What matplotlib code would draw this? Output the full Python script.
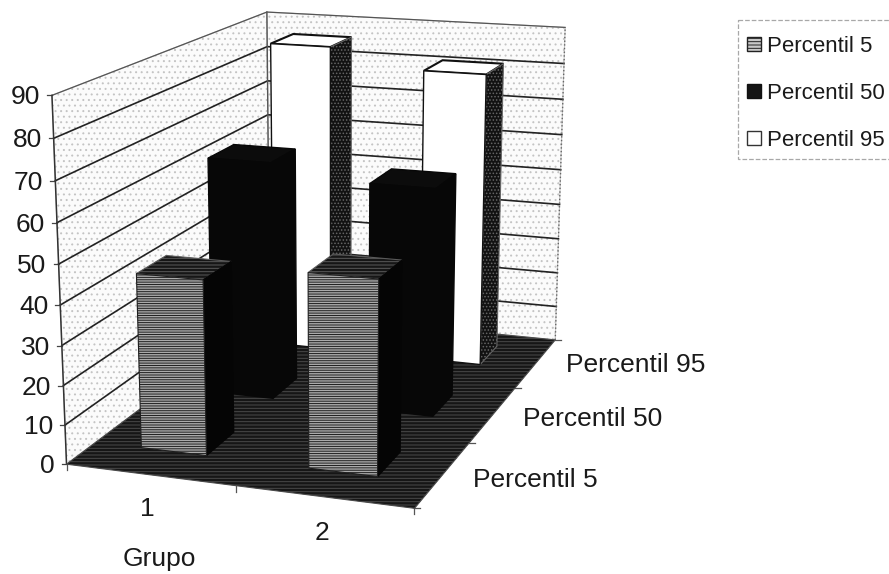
import numpy as np
import matplotlib
matplotlib.use('Agg')
import matplotlib.pyplot as plt
from matplotlib.patches import Polygon, Patch, Rectangle

plt.rcParams['font.family'] = ['Liberation Sans', 'DejaVu Sans']
plt.rcParams['hatch.linewidth'] = 0.7

grupos = ['1', '2']
percentis = ['Percentil 5', 'Percentil 50', 'Percentil 95']
percentil_5 = [44.5, 48.7]
percentil_50 = [63.4, 60]
percentil_95 = [86, 81]
valores = [percentil_5, percentil_50, percentil_95]
ticks_y = [0, 10, 20, 30, 40, 50, 60, 70, 80, 90]

# cantos da caixa 3D: (grupo, profundidade, valor) -> pixel na figura
CANTOS = [
    ((0, 0, 0), (66, 462)), ((2, 0, 0), (415, 510)),
    ((2, 3, 0), (555, 338)), ((0, 3, 0), (270, 314)),
    ((0, 0, 90), (52, 96)), ((0, 3, 90), (267, 11)),
    ((2, 3, 90), (565, 28)),
]


def ajustar_camera(cantos):
    # matriz de projecao 3x4 por minimos quadrados
    A, b = [], []
    for (u, v, w), (px, py) in cantos:
        A.append([u, v, w, 1, 0, 0, 0, 0, -px * u, -px * v, -px * w])
        A.append([0, 0, 0, 0, u, v, w, 1, -py * u, -py * v, -py * w])
        b += [px, py]
    m = np.linalg.lstsq(np.array(A, float), np.array(b, float), rcond=None)[0]
    return np.append(m, 1).reshape(3, 4)


CAM = ajustar_camera(CANTOS)


def proj(u, v, w):
    x, y, z = CAM @ np.array([u, v, w, 1.0])
    return x / z, y / z


def face(ax, pontos, **kw):
    kw.setdefault('edgecolor', 'black')
    kw.setdefault('linewidth', 1.0)
    kw.setdefault('zorder', 1)
    ax.add_patch(Polygon([proj(*p) for p in pontos], closed=True, **kw))


def barra(ax, g, s, valor, frente, lado, topo):
    u0, u1 = g + 0.28, g + 0.675
    v0, v1 = s + 0.36, s + 0.75
    face(ax, [(u0, v0, valor), (u1, v0, valor), (u1, v1, valor), (u0, v1, valor)], zorder=5, **topo)
    face(ax, [(u1, v0, 0), (u1, v1, 0), (u1, v1, valor), (u1, v0, valor)], zorder=5, **lado)
    face(ax, [(u0, v0, 0), (u1, v0, 0), (u1, v0, valor), (u0, v0, valor)], zorder=5, **frente)


fig = plt.figure(figsize=(8.89, 5.74), dpi=100)
ax = fig.add_axes([0, 0, 1, 1])
ax.set_xlim(0, 889)
ax.set_ylim(574, 0)
ax.axis('off')

# paredes e chao
parede = dict(facecolor='#fbfbfb', hatch='...', edgecolor='#c4c4c4', linewidth=0.8)
face(ax, [(0, 0, 0), (0, 3, 0), (0, 3, 90), (0, 0, 90)], **parede)
face(ax, [(0, 3, 0), (2, 3, 0), (2, 3, 90), (0, 3, 90)], **parede)

# linhas de grade e rotulos do eixo de valores
for t in ticks_y:
    pts = [proj(0, 0, t), proj(0, 3, t), proj(2, 3, t)]
    if t > 0:
        cor, lw = ('#555555', 0.9) if t == 90 else ('#222222', 1.2)
        ax.plot(*zip(*pts), color=cor, lw=lw, solid_joinstyle='miter', zorder=2)
    x0, y0 = proj(0, 0, t)
    ax.plot([x0 - 5, x0], [y0, y0], color='#444444', lw=0.9, zorder=2)
    ax.text(x0 - 12, y0 + 2, str(t), ha='right', va='center', fontsize=19, color='#1a1a1a')

# arestas verticais das paredes
ax.plot(*zip(proj(0, 0, 0), proj(0, 0, 90)), color='#333333', lw=1.1, zorder=2)
ax.plot(*zip(proj(0, 3, 0), proj(0, 3, 90)), color='#555555', lw=1.0, zorder=2)
ax.plot(*zip(proj(2, 3, 0), proj(2, 3, 90)), color='#666666', lw=1.0, ls=':', zorder=2)

face(ax, [(0, 0, 0), (2, 0, 0), (2, 3, 0), (0, 3, 0)], zorder=3,
     facecolor='#161616', hatch='-----', edgecolor='#4a4a4a', linewidth=0.8)

# marcas nos eixos do chao
for g in range(3):
    x0, y0 = proj(g, 0, 0)
    ax.plot([x0, x0], [y0, y0 + 6], color='#555555', lw=0.9, zorder=2)
for s in range(4):
    x0, y0 = proj(2, s, 0)
    ax.plot([x0, x0 + 6], [y0, y0], color='#555555', lw=0.9, zorder=2)

estilo_5 = dict(
    frente=dict(facecolor='#ababab', hatch='-------', edgecolor='#1e1e1e', linewidth=0.8),
    lado=dict(facecolor='#050505', edgecolor='#050505'),
    topo=dict(facecolor='#161616', hatch='-----', edgecolor='#5a5a5a', linewidth=0.8),
)
estilo_50 = dict(
    frente=dict(facecolor='#070707', edgecolor='#070707'),
    lado=dict(facecolor='#070707', edgecolor='#070707'),
    topo=dict(facecolor='#0c0c0c', edgecolor='#070707'),
)
estilo_95 = dict(
    frente=dict(facecolor='white', edgecolor='#111111'),
    lado=dict(facecolor='#121212', hatch='.....', edgecolor='#666666', linewidth=0.8),
    topo=dict(facecolor='white', edgecolor='#111111', linewidth=1.5),
)
estilos = [estilo_5, estilo_50, estilo_95]

# do fundo para a frente
for s in [2, 1, 0]:
    for g in range(len(grupos)):
        barra(ax, g, s, valores[s][g], **estilos[s])

# rotulos das categorias
ax.text(147, 509, grupos[0], ha='center', va='center', fontsize=19, color='#1a1a1a')
ax.text(322, 533, grupos[1], ha='center', va='center', fontsize=19, color='#1a1a1a')
ax.text(159, 559, 'Grupo', ha='center', va='center', fontsize=19, color='#1a1a1a')
ax.text(473, 480, percentis[0], ha='left', va='center', fontsize=19, color='#1a1a1a')
ax.text(523, 419, percentis[1], ha='left', va='center', fontsize=19, color='#1a1a1a')
ax.text(566, 365, percentis[2], ha='left', va='center', fontsize=19, color='#1a1a1a')

# moldura da legenda segue ate a borda direita
ax.add_patch(Rectangle((738, 20), 170, 139, facecolor='white', edgecolor='#a8a8a8',
                       linewidth=0.9, linestyle='--'))
handles = [
    Patch(facecolor='#c8c8c8', hatch='-----', edgecolor='#222222', label=percentis[0]),
    Patch(facecolor='#151515', edgecolor='#111111', label=percentis[1]),
    Patch(facecolor='white', edgecolor='#333333', label=percentis[2]),
]
leg = ax.legend(handles=handles, loc='upper left', bbox_to_anchor=(747, 36),
                bbox_transform=ax.transData, fontsize=16, frameon=False, borderaxespad=0,
                borderpad=0, handlelength=0.63, handleheight=0.63, handletextpad=0.27,
                labelspacing=1.17, labelcolor='#1a1a1a')

fig.savefig('out.png', dpi=100)
